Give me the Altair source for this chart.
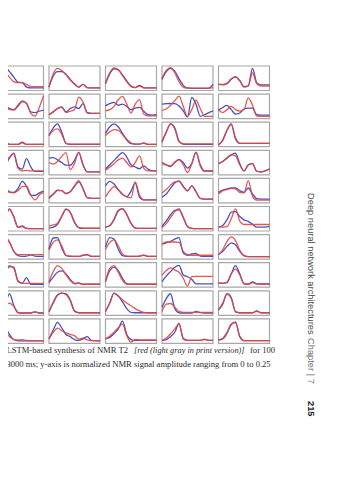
import altair as alt
import pandas as pd

# ---- curve samples (13 points per curve, value = % of panel amplitude range 0..0.25) ----
BLUE_R1 = [
    [50, 80, 97, 97, 80, 55, 33, 30, 10, 6, 6, 6, 6],
    [10, 60, 80, 80, 68, 45, 25, 10, 22, 8, 6, 6, 6],
    [25, 70, 93, 88, 65, 38, 15, 8, 18, 7, 6, 6, 6],
    [45, 80, 95, 82, 48, 18, 6, 4, 4, 4, 4, 5, 22],
    [22, 20, 25, 45, 57, 40, 12, 15, 95, 30, 20, 20, 20],
]
RED_R1 = [
    [60, 85, 90, 80, 55, 35, 30, 30, 22, 13, 12, 12, 12],
    [10, 70, 95, 85, 65, 42, 22, 10, 22, 8, 6, 6, 6],
    [30, 75, 97, 88, 62, 35, 12, 8, 15, 7, 6, 6, 6],
    [50, 85, 98, 75, 35, 10, 5, 5, 5, 5, 5, 5, 8],
    [22, 22, 28, 48, 55, 38, 10, 15, 75, 25, 15, 15, 15],
]
BLUE_R2 = [
    [25, 28, 32, 50, 40, 35, 55, 75, 62, 25, 22, 28, 33],
    [12, 25, 40, 47, 25, 40, 48, 40, 62, 22, 18, 18, 18],
    [52, 62, 68, 55, 60, 50, 35, 42, 45, 28, 12, 10, 12],
    [60, 62, 63, 62, 52, 30, 2, 90, 60, 5, 12, 22, 30],
    [33, 45, 54, 35, 15, 20, 38, 42, 42, 12, 10, 10, 10],
]
RED_R2 = [
    [28, 30, 35, 45, 36, 33, 50, 70, 65, 18, 6, 45, 97],
    [12, 25, 40, 45, 22, 28, 35, 92, 70, 20, 18, 18, 18],
    [30, 35, 50, 80, 95, 60, 20, 60, 80, 15, 7, 7, 7],
    [32, 38, 55, 75, 96, 50, 5, 35, 78, 40, 5, 5, 5],
    [33, 22, 35, 50, 35, 28, 35, 88, 55, 6, 5, 5, 5],
]
BLUE_R3 = [
    [70, 95, 95, 30, 5, 5, 5, 15, 5, 5, 5, 5, 5],
    [45, 80, 98, 60, 10, 5, 5, 5, 5, 5, 5, 5, 5],
    [55, 85, 98, 85, 55, 25, 8, 6, 6, 12, 5, 5, 5],
    [15, 60, 98, 80, 20, 6, 5, 5, 5, 5, 5, 5, 5],
    [2, 25, 70, 98, 30, 10, 10, 10, 10, 10, 10, 10, 10],
]
RED_R3 = [
    [65, 88, 88, 25, 5, 5, 5, 12, 5, 5, 5, 5, 5],
    [45, 68, 75, 50, 10, 6, 6, 6, 6, 6, 6, 6, 6],
    [45, 62, 72, 68, 50, 28, 12, 6, 6, 10, 5, 5, 5],
    [18, 62, 97, 75, 18, 8, 7, 7, 7, 7, 7, 7, 7],
    [5, 22, 68, 95, 35, 10, 10, 10, 10, 10, 10, 10, 10],
]
BLUE_R4 = [
    [25, 28, 30, 40, 70, 92, 30, 20, 68, 30, 10, 10, 10],
    [70, 72, 62, 50, 38, 38, 60, 95, 40, 8, 8, 8, 8],
    [22, 40, 60, 80, 95, 75, 40, 30, 22, 35, 20, 12, 12],
    [50, 40, 32, 50, 64, 50, 25, 45, 96, 40, 12, 12, 12],
    [45, 55, 70, 85, 92, 45, 12, 40, 45, 10, 8, 12, 22],
]
RED_R4 = [
    [45, 48, 50, 55, 75, 90, 25, 12, 15, 12, 12, 12, 12],
    [50, 43, 55, 78, 95, 18, 45, 97, 40, 8, 8, 8, 8],
    [15, 30, 45, 62, 70, 50, 30, 50, 80, 25, 12, 12, 12],
    [45, 38, 35, 52, 62, 40, 5, 45, 97, 35, 10, 10, 10],
    [45, 55, 72, 85, 80, 40, 12, 38, 45, 10, 8, 12, 20],
]
BLUE_R5 = [
    [30, 33, 38, 60, 45, 42, 60, 92, 70, 30, 28, 40, 48],
    [18, 35, 52, 50, 38, 45, 70, 90, 60, 18, 15, 15, 15],
    [72, 92, 80, 55, 32, 22, 48, 85, 20, 8, 8, 8, 8],
    [20, 35, 60, 85, 94, 70, 50, 72, 45, 15, 12, 12, 12],
    [42, 52, 58, 62, 62, 50, 42, 62, 35, 14, 12, 12, 12],
]
RED_R5 = [
    [28, 30, 35, 48, 42, 40, 50, 68, 70, 30, 8, 30, 42],
    [15, 32, 50, 50, 36, 45, 72, 95, 58, 18, 15, 15, 15],
    [22, 50, 68, 55, 35, 22, 18, 90, 30, 8, 8, 8, 8],
    [40, 55, 75, 90, 92, 68, 48, 72, 45, 15, 12, 12, 12],
    [35, 50, 55, 60, 58, 42, 40, 95, 25, 7, 7, 7, 7],
]
BLUE_R6 = [
    [10, 15, 22, 60, 92, 60, 12, 18, 6, 5, 5, 5, 5],
    [8, 12, 25, 60, 92, 80, 35, 10, 6, 6, 6, 6, 6],
    [12, 18, 45, 85, 95, 70, 30, 8, 6, 6, 6, 6, 6],
    [15, 40, 68, 88, 90, 55, 15, 6, 5, 5, 5, 5, 5],
    [12, 20, 45, 80, 82, 60, 45, 38, 25, 12, 12, 12, 15],
]
RED_R6 = [
    [12, 16, 25, 62, 95, 58, 10, 14, 6, 5, 5, 5, 5],
    [18, 22, 30, 62, 95, 78, 32, 10, 7, 7, 7, 7, 7],
    [12, 20, 48, 88, 96, 68, 28, 8, 6, 6, 6, 6, 6],
    [10, 28, 55, 82, 96, 58, 15, 6, 5, 5, 5, 5, 5],
    [12, 12, 14, 50, 95, 40, 24, 24, 24, 24, 24, 24, 24],
]
BLUE_R7 = [
    [95, 95, 95, 92, 72, 30, 10, 7, 8, 14, 8, 7, 7],
    [40, 90, 92, 45, 10, 7, 7, 7, 12, 15, 7, 7, 7],
    [50, 92, 85, 40, 10, 7, 7, 7, 8, 13, 7, 7, 7],
    [62, 68, 75, 85, 92, 22, 12, 18, 20, 8, 7, 7, 7],
    [15, 30, 52, 68, 60, 30, 10, 6, 6, 6, 6, 6, 6],
]
RED_R7 = [
    [92, 92, 92, 90, 70, 30, 15, 15, 15, 15, 15, 15, 15],
    [35, 70, 82, 55, 12, 8, 7, 7, 12, 14, 7, 7, 7],
    [38, 70, 82, 55, 18, 8, 7, 7, 8, 12, 7, 7, 7],
    [62, 72, 72, 72, 70, 30, 15, 12, 12, 12, 12, 12, 12],
    [15, 38, 75, 95, 78, 35, 10, 6, 6, 6, 6, 6, 6],
]
BLUE_R8 = [
    [25, 35, 40, 62, 88, 85, 20, 12, 38, 8, 8, 8, 8],
    [15, 40, 62, 68, 55, 30, 12, 14, 8, 8, 8, 8, 8],
    [20, 70, 85, 70, 35, 10, 8, 8, 8, 8, 8, 8, 8],
    [20, 45, 65, 85, 93, 50, 42, 30, 10, 10, 10, 10, 10],
    [14, 12, 15, 55, 92, 55, 10, 8, 18, 10, 9, 9, 9],
]
RED_R8 = [
    [30, 38, 45, 68, 92, 80, 25, 12, 12, 12, 12, 12, 12],
    [20, 65, 92, 80, 50, 25, 10, 12, 8, 8, 8, 8, 8],
    [22, 80, 92, 62, 25, 8, 8, 8, 8, 8, 8, 8, 8],
    [48, 70, 82, 72, 62, 35, 0, 42, 44, 44, 44, 44, 44],
    [14, 12, 18, 55, 76, 50, 12, 8, 15, 10, 9, 9, 9],
]
BLUE_R9 = [
    [5, 5, 8, 45, 92, 40, 6, 5, 5, 5, 10, 5, 5],
    [10, 50, 85, 95, 92, 65, 15, 6, 6, 6, 6, 6, 6],
    [12, 50, 95, 82, 55, 25, 8, 6, 6, 6, 6, 6, 6],
    [30, 70, 92, 25, 6, 5, 5, 5, 12, 7, 5, 5, 5],
    [18, 45, 92, 75, 10, 6, 6, 6, 6, 15, 6, 6, 6],
]
RED_R9 = [
    [5, 5, 10, 35, 50, 35, 8, 5, 5, 5, 10, 5, 5],
    [12, 55, 88, 95, 88, 60, 12, 6, 6, 6, 6, 6, 6],
    [12, 50, 95, 82, 65, 50, 38, 25, 15, 8, 6, 6, 6],
    [12, 45, 48, 32, 12, 8, 8, 8, 8, 8, 8, 8, 8],
    [20, 50, 90, 70, 12, 6, 6, 6, 6, 13, 6, 6, 6],
]
BLUE_R10 = [
    [80, 90, 90, 68, 35, 12, 6, 6, 6, 6, 6, 6, 6],
    [15, 55, 90, 65, 35, 25, 12, 8, 15, 25, 8, 6, 6],
    [15, 22, 38, 60, 95, 35, 12, 8, 8, 8, 8, 8, 8],
    [8, 12, 25, 45, 85, 15, 8, 8, 8, 8, 14, 8, 8],
    [10, 15, 40, 80, 92, 25, 7, 7, 7, 7, 7, 7, 7],
]
RED_R10 = [
    [60, 62, 58, 45, 25, 12, 10, 12, 8, 7, 7, 7, 7],
    [15, 45, 64, 52, 42, 35, 30, 14, 18, 10, 7, 7, 7],
    [15, 28, 45, 65, 82, 30, 0, 13, 10, 10, 10, 10, 10],
    [8, 18, 38, 60, 82, 18, 8, 8, 8, 8, 12, 8, 8],
    [10, 18, 45, 82, 88, 28, 7, 7, 7, 7, 7, 7, 7],
]

BLUE = [BLUE_R1, BLUE_R2, BLUE_R3, BLUE_R4, BLUE_R5,
        BLUE_R6, BLUE_R7, BLUE_R8, BLUE_R9, BLUE_R10]
RED = [RED_R1, RED_R2, RED_R3, RED_R4, RED_R5,
       RED_R6, RED_R7, RED_R8, RED_R9, RED_R10]

CAPTION_1A = "d LSTM-based synthesis of NMR T2 "
CAPTION_1B = "[red (light gray in print version)]"
CAPTION_1C = "for 100"
CAPTION_2 = "o 3000 ms; y-axis is normalized NMR signal amplitude ranging from 0 to 0.25"
HEADER = "Deep neural network architectures"
CHAPTER = "Chapter | 7"
PAGE_NO = "215"

# ---- layout (page-pixel units) ----
LEFT0, PITCH_X, PANEL_W = -7.5, 56.5, 51.0
TOP0, PITCH_Y, PANEL_H = 66.0, 28.1, 24.5
W, H = 343, 464
BLUE_C, RED_C = "#3b3bbd", "#e0473e"

recs = []
for r in range(10):
    for c in range(5):
        for s, grid in (("blue", BLUE), ("red", RED)):
            for i, v in enumerate(grid[r][c]):
                recs.append({"row": r, "col": c, "series": s, "i": i, "v": v})
df = pd.DataFrame(recs)
frames = pd.DataFrame([{"row": r, "col": c} for r in range(10) for c in range(5)])

xs = alt.Scale(domain=[8, 8 + W], nice=False, zero=False)
ys = alt.Scale(domain=[8, 8 + H], nice=False, zero=False, reverse=True)

px = f"{LEFT0} + {PITCH_X}*datum.col + {PANEL_W}*datum.i/12"
py = f"{TOP0} + {PITCH_Y}*datum.row + 1.2 + {PANEL_H - 2.4}*(1 - datum.v/100)"

frame_layer = alt.Chart(frames).transform_calculate(
    x1=f"{LEFT0} + {PITCH_X}*datum.col",
    x2=f"{LEFT0} + {PITCH_X}*datum.col + {PANEL_W}",
    y1=f"{TOP0} + {PITCH_Y}*datum.row",
    y2=f"{TOP0} + {PITCH_Y}*datum.row + {PANEL_H}",
).mark_rect(filled=False, stroke="#a8a8a8", strokeWidth=1.2).encode(
    x=alt.X("x1:Q", scale=xs, axis=None),
    x2="x2:Q",
    y=alt.Y("y1:Q", scale=ys, axis=None),
    y2="y2:Q",
)


def curve_layer(series, color):
    return alt.Chart(df).transform_filter(
        alt.datum.series == series
    ).transform_calculate(px=px, py=py).mark_line(
        interpolate="monotone", strokeWidth=1.3, color=color, opacity=0.9
    ).encode(
        x=alt.X("px:Q", scale=xs, axis=None),
        y=alt.Y("py:Q", scale=ys, axis=None),
        detail=["row:N", "col:N"],
        order="i:Q",
    )


def text_layer(txt, x, y, **kw):
    return alt.Chart(pd.DataFrame({"t": [txt]})).mark_text(**kw).encode(
        text="t:N", x=alt.value(x), y=alt.value(y)
    )


serif = dict(align="left", baseline="alphabetic", font="Liberation Serif",
             color="#2a2a2a")
side = dict(align="left", baseline="middle", angle=90, font="Liberation Sans",
            fontSize=9.3)

chart = alt.layer(
    frame_layer,
    curve_layer("blue", BLUE_C),
    curve_layer("red", RED_C),
    text_layer(CAPTION_1A, -8, 345, fontSize=8.6, **serif),
    text_layer(CAPTION_1B, 126, 345, fontStyle="italic", fontSize=8.3, **serif),
    text_layer(CAPTION_1C, 242, 345, fontSize=8.6, **serif),
    text_layer(CAPTION_2, -8, 359, fontSize=8.6, **serif),
    text_layer(HEADER, 302.5, 185, color="#4a4a4a", **side),
    text_layer(CHAPTER, 302.5, 330, color="#6e6e6e", **side),
    text_layer(PAGE_NO, 302.5, 393, color="#222222", fontWeight="bold", **side),
).properties(
    width=W, height=H, padding=0,
    autosize=alt.AutoSizeParams(type="none"),
).configure(background="white").configure_view(stroke=None)

chart.save("out.html", embed_options={"renderer": "svg", "actions": False})
